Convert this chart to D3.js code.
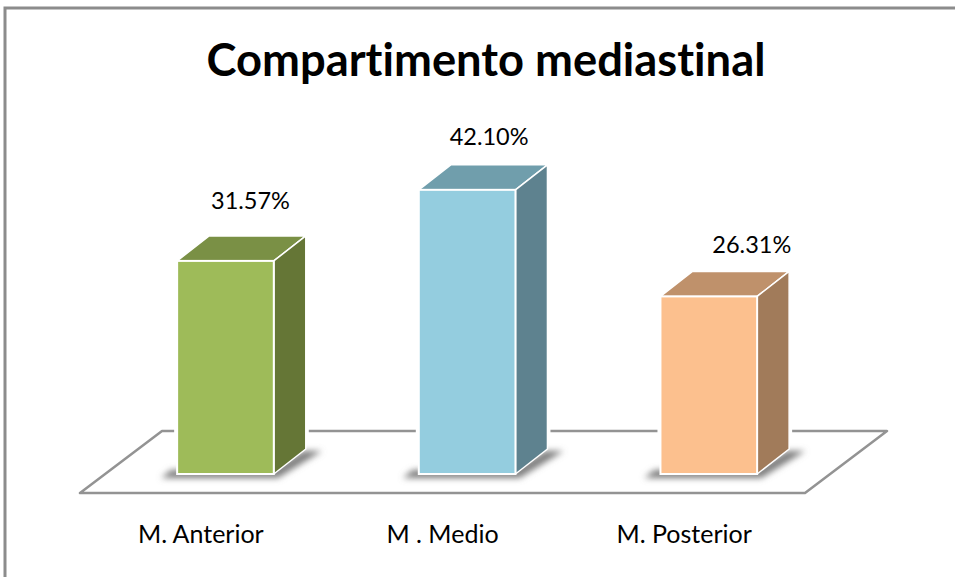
<!DOCTYPE html>
<html>

<head>
    <meta charset="UTF-8">
    <style>
        html, body {
            margin: 0;
            padding: 0;
            background-color: #fff;
        }

        svg {
            display: block;
        }

        text {
            font-family: Lato, sans-serif;
            font-variant-ligatures: none;
            fill: #000;
        }
    </style>
    <script src="https://d3js.org/d3.v7.min.js"></script>
</head>

<body>
    <svg id="chart" width="955" height="577"></svg>
    <script>
        var categories = ["M. Anterior", "M . Medio", "M. Posterior"];
        var values = [31.57, 42.10, 26.31];
        var valueLabels = ["31.57%", "42.10%", "26.31%"];
        var frontColors = ["#9ebb59", "#94cddf", "#fcc08e"];
        var topColors = ["#7a9045", "#709eac", "#bf916b"];
        var sideColors = ["#657636", "#5e828f", "#a17b5a"];

        var svg = d3.select("#chart");

        // chart frame, only top and left show in the picture
        svg.append("path")
            .attr("d", "M5,577V8H955")
            .attr("fill", "none")
            .attr("stroke", "#8c8c8c")
            .attr("stroke-width", 3);

        var defs = svg.append("defs");
        defs.append("filter")
            .attr("id", "blur")
            .attr("x", "-20%").attr("y", "-50%").attr("width", "140%").attr("height", "200%")
            .append("feGaussianBlur")
            .attr("stdDeviation", 3);

        // floor is a parallelogram, bars stand part way back on it
        var floorLeft = 80, floorRight = 805, floorFront = 493;
        var floorDx = 82, floorDy = 62;
        var barBase = 474;
        var barShift = (floorFront - barBase) * floorDx / floorDy;
        var depthX = 32, depthY = 25;

        var x = d3.scaleBand()
            .domain(categories)
            .range([floorLeft, floorRight])
            .paddingInner(0.6)
            .paddingOuter(0.3);

        var y = d3.scaleLinear()
            .domain([0, 40])
            .range([barBase, barBase - 270]);

        var w = x.bandwidth();

        svg.append("path")
            .attr("d", "M" + floorLeft + "," + floorFront + "H" + floorRight
                + "L" + (floorRight + floorDx) + "," + (floorFront - floorDy)
                + "H" + (floorLeft + floorDx) + "Z")
            .attr("fill", "#fff")
            .attr("stroke", "#939393")
            .attr("stroke-width", 2.5)
            .attr("stroke-linejoin", "round");

        var bars = svg.selectAll("g.bar")
            .data(categories)
            .enter()
            .append("g")
            .attr("class", "bar")
            .attr("transform", function (d) { return "translate(" + (x(d) + barShift - 0.5) + ",0)"; });

        // white strip breaks the floor line either side of the bar
        bars.append("rect")
            .attr("x", -3)
            .attr("y", floorFront - floorDy - 3)
            .attr("width", w + depthX + 6)
            .attr("height", 6)
            .attr("fill", "#fff");

        // soft shadow on the floor
        bars.append("path")
            .attr("d", "M-16," + (barBase + 4) + "H" + (w + 4) + "L" + (w + depthX + 16) + "," + (barBase - depthY + 2)
                + "H" + (w + depthX - 2) + "L" + (w - 2) + "," + (barBase - 4) + "H-6Z")
            .attr("fill", "#7c7c7c")
            .attr("filter", "url(#blur)");

        bars.append("path")
            .attr("d", function (d, i) {
                var t = y(values[i]);
                return "M0," + t + "L" + depthX + "," + (t - depthY) + "H" + (w + depthX) + "L" + w + "," + t + "Z";
            })
            .attr("fill", function (d, i) { return topColors[i]; })
            .attr("stroke", "#fff")
            .attr("stroke-width", 1.5)
            .attr("stroke-linejoin", "round");

        bars.append("path")
            .attr("d", function (d, i) {
                var t = y(values[i]);
                return "M" + w + "," + t + "L" + (w + depthX) + "," + (t - depthY)
                    + "V" + (barBase - depthY) + "L" + w + "," + barBase + "Z";
            })
            .attr("fill", function (d, i) { return sideColors[i]; })
            .attr("stroke", "#fff")
            .attr("stroke-width", 1.5)
            .attr("stroke-linejoin", "round");

        bars.append("rect")
            .attr("x", 0)
            .attr("y", function (d, i) { return y(values[i]); })
            .attr("width", w)
            .attr("height", function (d, i) { return barBase - y(values[i]); })
            .attr("fill", function (d, i) { return frontColors[i]; })
            .attr("stroke", "#fff")
            .attr("stroke-width", 2);

        // value labels were placed by hand in the original, third one sits further right
        var labelDx = [24.5, 21.5, 42.5];
        var labelDy = [-52, -45, -43];
        svg.selectAll("text.value")
            .data(valueLabels)
            .enter()
            .append("text")
            .attr("class", "value")
            .attr("x", function (d, i) { return x(categories[i]) + barShift + w / 2 + labelDx[i]; })
            .attr("y", function (d, i) { return y(values[i]) + labelDy[i]; })
            .attr("text-anchor", "middle")
            .style("font-size", "23.5px")
            .text(function (d) { return d; });

        // category labels
        svg.selectAll("text.cat")
            .data(categories)
            .enter()
            .append("text")
            .attr("class", "cat")
            .attr("x", function (d) { return x(d) + w / 2; })
            .attr("y", 543)
            .attr("text-anchor", "middle")
            .style("font-size", "25px")
            .text(function (d) { return d; });

        svg.append("text")
            .attr("x", 486)
            .attr("y", 76)
            .attr("text-anchor", "middle")
            .style("font-size", "45.3px")
            .style("font-weight", "bold")
            .text("Compartimento mediastinal");
    </script>
</body>

</html>
